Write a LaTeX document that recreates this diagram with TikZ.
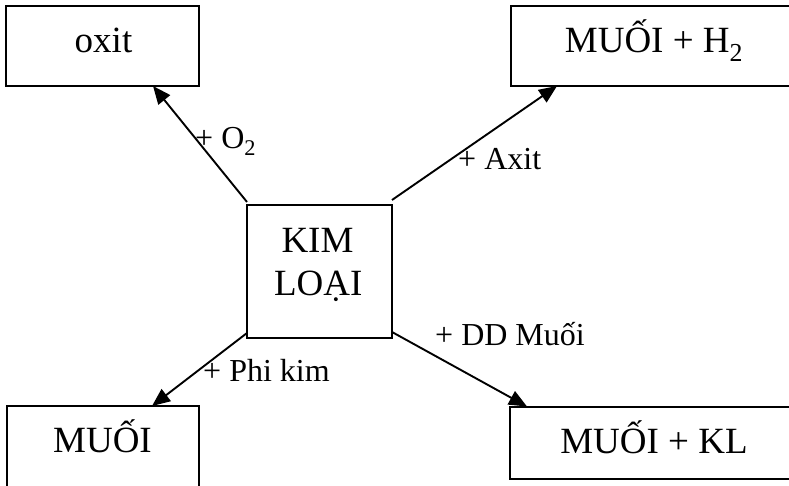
\documentclass[tikz,border=0pt]{standalone}
\usepackage{fontspec}
\setmainfont{Liberation Serif}
\usetikzlibrary{arrows.meta}
\tikzset{
  box/.style={draw, line width=2pt, inner sep=0pt, outer sep=0pt, anchor=north west},
  boxtext/.style={anchor=base, inner sep=0pt, font=\fontsize{37}{43}\selectfont},
  reaction/.style={anchor=base west, inner sep=0pt, font=\fontsize{32}{38}\selectfont},
  conv/.style={line width=1.9pt, -{Triangle[length=18pt,width=15pt]}}
}
\begin{document}
\begin{tikzpicture}[x=1pt, y=-1pt]
  \clip (0,0) rectangle (789,486);
  \fill[white] (0,0) rectangle (789,486);

  % boxes
  \node[box, minimum width=193pt, minimum height=80pt] (oxit) at (6,6) {};
  \node[box, minimum width=288pt, minimum height=80pt] (muoih) at (510.5,6) {};
  \node[box, minimum width=145pt, minimum height=133pt] (kl) at (247,205) {};
  \node[box, minimum width=192.5pt, minimum height=100pt] (muoi) at (6.5,406) {};
  \node[box, minimum width=288pt, minimum height=72pt] (muoikl) at (510,406.5) {};

  % box texts
  \node[boxtext] (toxit) at (103.5,53) {oxit};
  \node[boxtext] (tmuoih) at (654,53) {MUỐI + H\textsubscript{2}};
  \node[boxtext] (tkim) at (317.5,252) {KIM};
  \node[boxtext] (tloai) at (318.3,295) {LOẠI};
  \node[boxtext] (tmuoi) at (102.5,452) {MUỐI};
  \node[boxtext] (tmuoikl) at (654,453) {MUỐI + KL};

  % arrows from the metal box
  \draw[conv] ([yshift=3pt]kl.north west) -- ([xshift=147pt]oxit.south west);
  \draw[conv] ([yshift=5pt]kl.north east) -- ([xshift=46.5pt]muoih.south west);
  \draw[conv] ([yshift=5pt]kl.south west) -- ([xshift=145.5pt]muoi.north west);
  \draw[conv] ([yshift=6pt]kl.south east) -- ([xshift=17pt]muoikl.north west);

  % reaction labels
  \node[reaction] (lo2) at (195,149) {+ O\textsubscript{2}};
  \node[reaction] (laxit) at (458,170) {+ Axit};
  \node[reaction] (lphikim) at (203,381) {+ Phi kim};
  \node[reaction] (lddmuoi) at (435,345) {+ DD Muối};
\end{tikzpicture}
\end{document}
